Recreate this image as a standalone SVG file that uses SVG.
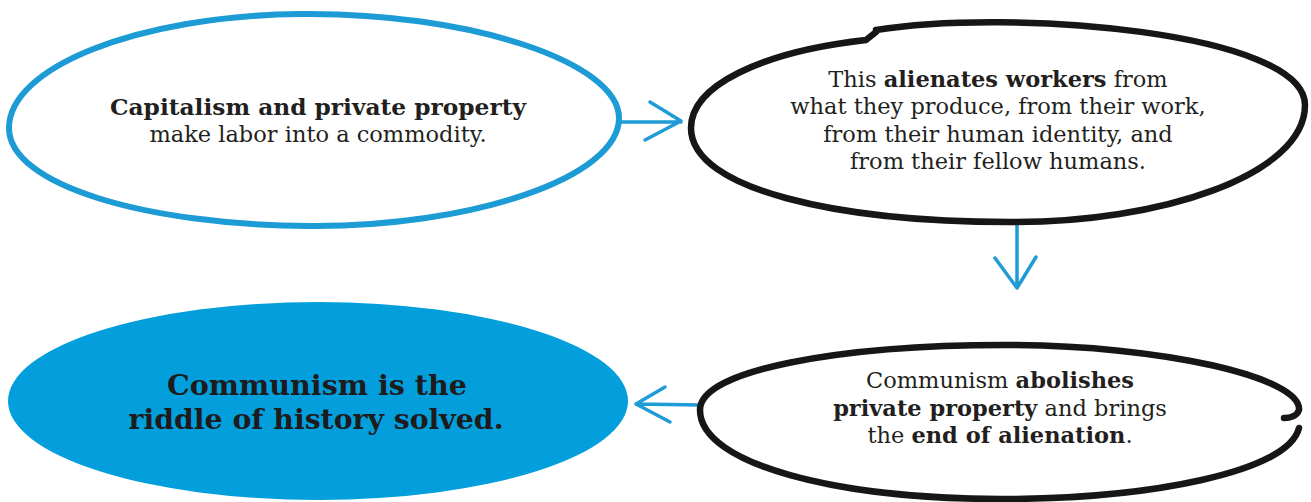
<svg xmlns="http://www.w3.org/2000/svg" width="1311" height="502" viewBox="0 0 1311 502">
<style>
.txt{font-family:"DejaVu Serif","Liberation Serif",serif;font-size:22.5px;fill:#231f20;text-anchor:middle}
.b{font-weight:bold}
.heavy{font-family:"DejaVu Serif","Liberation Serif",serif;font-weight:bold;font-size:28px;fill:#1e1b1c;text-anchor:middle}
.blueline{fill:none;stroke:#1d9bd5;stroke-width:6;stroke-linecap:round;stroke-linejoin:round}
.blackline{fill:none;stroke:#161616;stroke-width:6.5;stroke-linecap:round;stroke-linejoin:round}
.arrow{fill:none;stroke:#1f9cd6;stroke-width:3.5;stroke-linecap:round;stroke-linejoin:round}
</style>
<rect width="1311" height="502" fill="#ffffff"/>
<g id="connectors">
<path class="arrow" d="M620,122 L681,122 M650,102 L681,121 L645,140"/>
<path class="arrow" d="M1017,222 L1017,287 M995,258 L1017,288 L1036,257"/>
<path class="arrow" d="M700,405 L636,404 M665,387 L636,404 L670,422"/>
</g>
<g id="node1">
<path class="blueline" d="M300,14 C468,12 619,62 619,118 C619,178 470,227 310,226 C145,225 9,185 9,128 C9,68 135,16 300,14Z"/>
<text class="txt" x="318" y="115" textLength="416" lengthAdjust="spacingAndGlyphs"><tspan class="b">Capitalism and private property</tspan></text>
<text class="txt" x="318" y="142">make labor into a commodity.</text>
</g>
<g id="node2">
<path class="blackline" d="M876,30 C1010,8 1305,32 1305,105 C1305,175 1160,223 1010,222 C840,222 691,190 691,128 C691,86 760,52 866,40 L876,32"/>
<text class="txt" x="998" y="87">This <tspan class="b">alienates workers</tspan> from</text>
<text class="txt" x="998" y="114">what they produce, from their work,</text>
<text class="txt" x="998" y="142">from their human identity, and</text>
<text class="txt" x="998" y="169">from their fellow humans.</text>
</g>
<g id="node3">
<path class="blackline" d="M1299,428 C1288,472 1150,499 1000,499 C840,499 700,465 700,410 C700,370 840,345 1005,345 C1165,345 1302,378 1299,410 C1297,416 1290,418 1284,418"/>
<text class="txt" x="1000" y="388">Communism <tspan class="b">abolishes</tspan></text>
<text class="txt" x="1000" y="416"><tspan class="b">private property</tspan> and brings</text>
<text class="txt" x="1000" y="443">the <tspan class="b">end of alienation</tspan>.</text>
</g>
<g id="node4">
<ellipse cx="318" cy="401" rx="310" ry="99" fill="#039fdc"/>
<text class="heavy" x="317" y="395" textLength="300" lengthAdjust="spacingAndGlyphs">Communism is the</text>
<text class="heavy" x="316" y="429" textLength="375" lengthAdjust="spacingAndGlyphs">riddle of history solved.</text>
</g>
</svg>
